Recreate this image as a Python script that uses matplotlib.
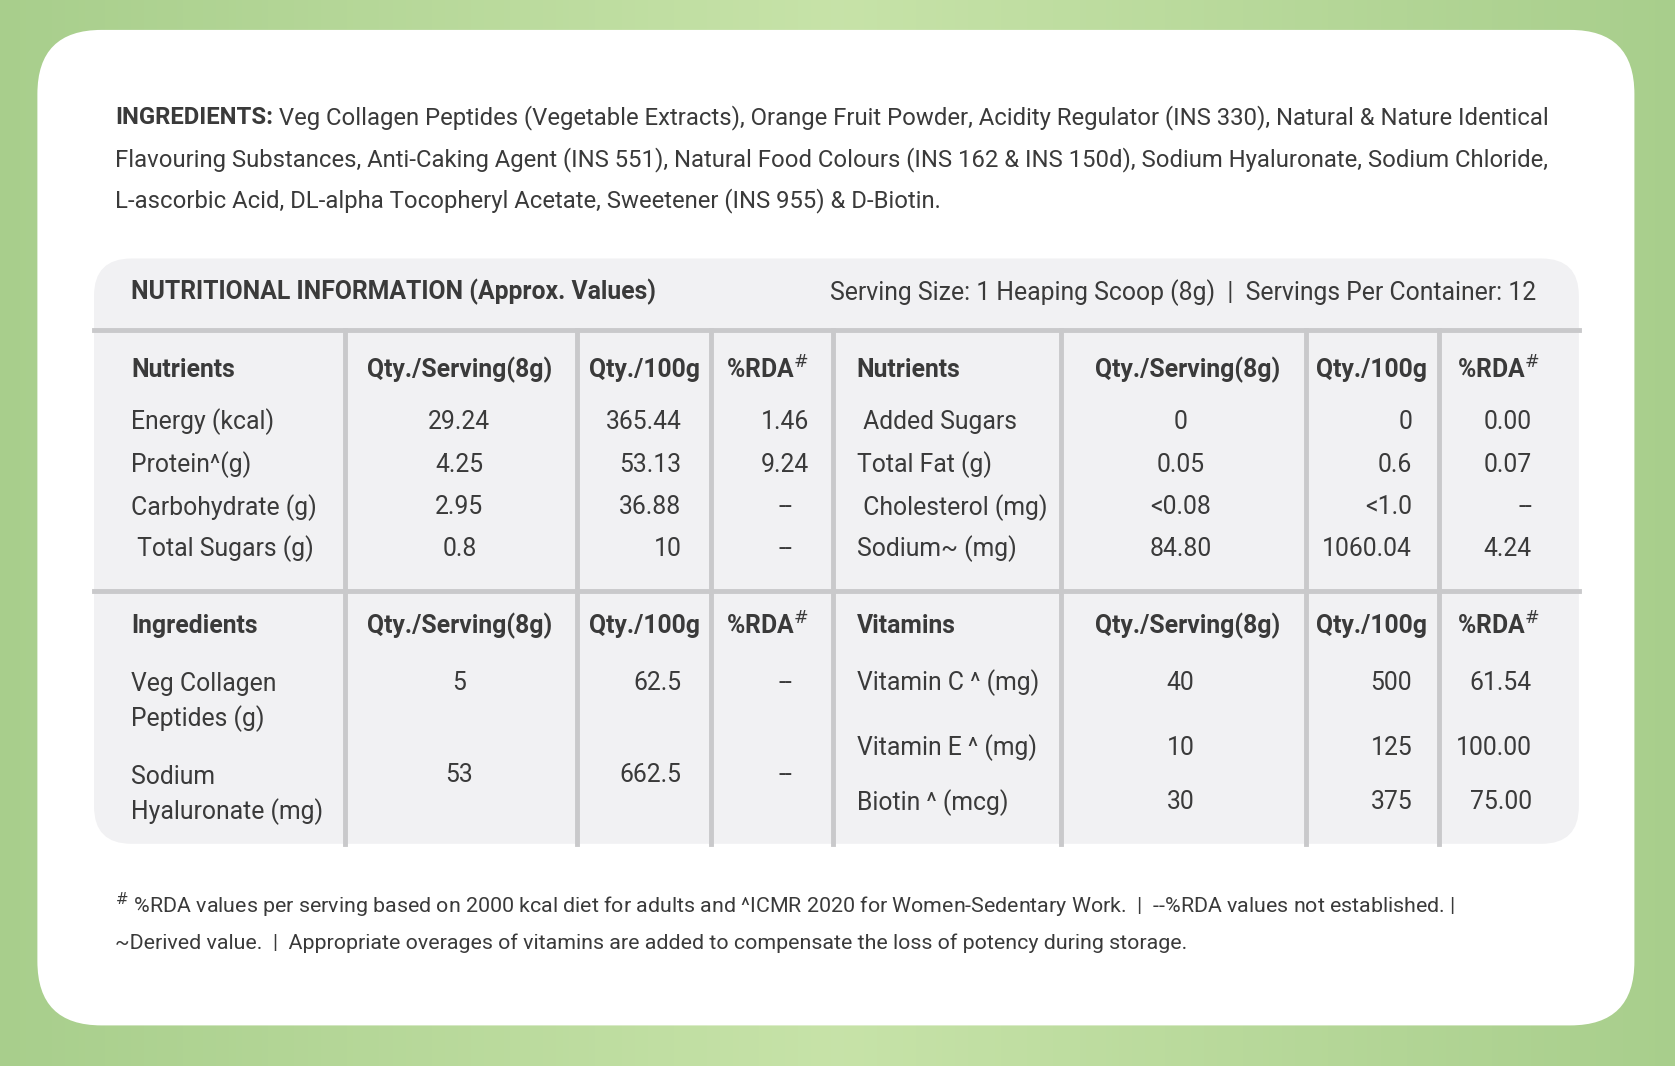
import matplotlib.pyplot as plt
from matplotlib.patches import FancyBboxPatch
import numpy as np

plt.rcParams['font.family'] = ['Liberation Sans Narrow', 'Roboto', 'DejaVu Sans']

W, H = 1568, 998
S = 1675 / W  # reference px -> output px
K = 0.8       # compensate for missing condensed font
def pt(px):
    return px * S * 0.72 * K

ingredients = [
    ("INGREDIENTS:", " Veg Collagen Peptides (Vegetable Extracts), Orange Fruit Powder, Acidity Regulator (INS 330), Natural & Nature Identical"),
    ("", "Flavouring Substances, Anti-Caking Agent (INS 551), Natural Food Colours (INS 162 & INS 150d), Sodium Hyaluronate, Sodium Chloride,"),
    ("", "L-ascorbic Acid, DL-alpha Tocopheryl Acetate, Sweetener (INS 955) & D-Biotin."),
]
headers_top = ["Nutrients", "Qty./Serving(8g)", "Qty./100g", "%RDA#", "Nutrients", "Qty./Serving(8g)", "Qty./100g", "%RDA#"]
headers_bot = ["Ingredients", "Qty./Serving(8g)", "Qty./100g", "%RDA#", "Vitamins", "Qty./Serving(8g)", "Qty./100g", "%RDA#"]
nut_left = ["Energy (kcal)", "Protein^(g)", "Carbohydrate (g)", " Total Sugars (g)"]
nut_left_srv = ["29.24", "4.25", "2.95", "0.8"]
nut_left_100 = ["365.44", "53.13", "36.88", "10"]
nut_left_rda = ["1.46", "9.24", "--", "--"]
nut_right = [" Added Sugars", "Total Fat (g)", " Cholesterol (mg)", "Sodium~ (mg)"]
nut_right_srv = ["0", "0.05", "<0.08", "84.80"]
nut_right_100 = ["0", "0.6", "<1.0", "1060.04"]
nut_right_rda = ["0.00", "0.07", "--", "4.24"]
ing_names = ["Veg Collagen\nPeptides (g)", "Sodium\nHyaluronate (mg)"]
ing_srv = ["5", "53"]
ing_100 = ["62.5", "662.5"]
ing_rda = ["--", "--"]
vit_names = ["Vitamin C ^ (mg)", "Vitamin E ^ (mg)", "Biotin ^ (mcg)"]
vit_srv = ["40", "10", "30"]
vit_100 = ["500", "125", "375"]
vit_rda = ["61.54", "100.00", "75.00"]
footer = ["# %RDA values per serving based on 2000 kcal diet for adults and ^ICMR 2020 for Women-Sedentary Work.  |  --%RDA values not established. |",
          "~Derived value.  |  Appropriate overages of vitamins are added to compensate the loss of potency during storage."]

fig = plt.figure(figsize=(16.75, 10.66), dpi=100)
ax = fig.add_axes([0, 0, 1, 1])
grad = np.linspace(0, 1, 256)
gimg = np.zeros((2, 256, 3))
c1, c2 = np.array([0.66, 0.81, 0.55]), np.array([0.78, 0.89, 0.66])
for i, g in enumerate(grad):
    gimg[:, i] = c1 + (c2 - c1) * (1 - abs(g - 0.5) * 2)
ax.imshow(gimg, aspect='auto', extent=[0, W, H, 0])
ax.set_xlim(0, W); ax.set_ylim(H, 0); ax.axis('off')

ax.add_patch(FancyBboxPatch((35 + 60, 28 + 60), 1495 - 120, 932 - 120,
                            boxstyle="round,pad=60", fc='white', ec='none'))
ax.add_patch(FancyBboxPatch((88 + 35, 242 + 35), 1390 - 70, 548 - 70,
                            boxstyle="round,pad=35", fc='#f1f1f3', ec='none'))

tc = '#3a3a3a'
fig.canvas.draw()
for i, (b, t) in enumerate(ingredients):
    y = 110 + 39 * i
    if b:
        tb = ax.text(108, y, b, fontsize=pt(28), color=tc, va='center', fontweight='bold')
        bb = tb.get_window_extent(renderer=fig.canvas.get_renderer()).transformed(ax.transData.inverted())
        ax.text(bb.x1, y, t, fontsize=pt(28), color=tc, va='center')
    else:
        ax.text(108, y, t, fontsize=pt(28), color=tc, va='center')

ax.text(123, 273, "NUTRITIONAL INFORMATION (Approx. Values)", fontsize=pt(29), color=tc, va='center', fontweight='bold')
ax.text(1438, 274, "Serving Size: 1 Heaping Scoop (8g)  |  Servings Per Container: 12", fontsize=pt(29), color=tc, va='center', ha='right')

lc = '#c9c9cb'
for y in [309, 553]:
    ax.plot([88, 1478], [y, y], color=lc, lw=3.5)
for x in [323, 540, 666, 780, 993, 1223, 1347]:
    ax.plot([x, x], [309, 790], color=lc, lw=3.5)

fs = pt(29)
hx = [123, 430, 603, 718, 802, 1112, 1284, 1402]
for hdrs, y in [(headers_top, 346), (headers_bot, 586)]:
    for j, h in enumerate(hdrs):
        ha = 'left' if j in (0, 4) else 'center'
        ax.text(hx[j], y, h.replace('#', '$^{\\#}$'), fontsize=fs, color=tc, va='center', ha=ha, fontweight='bold')

def row(y, cells):
    xs = [(123, 'left'), (430, 'center'), (638, 'right'), (735, 'center'),
          (802, 'left'), (1105, 'center'), (1322, 'right'), (1434, 'right')]
    for (x, ha), c in zip(xs, cells):
        if c is not None:
            ax.text(x, y, c, fontsize=fs, color=tc, va='center', ha=ha, linespacing=1.45)

for i, y in enumerate([395, 435, 475, 514]):
    row(y, [nut_left[i], nut_left_srv[i], nut_left_100[i], nut_left_rda[i],
            nut_right[i], nut_right_srv[i], nut_right_100[i], nut_right_rda[i]])
for i, y in enumerate([657, 744]):
    row(y, [ing_names[i], None, None, None, None, None, None, None])
    row(y - 18, [None, ing_srv[i], ing_100[i], ing_rda[i], None, None, None, None])
for i, y in enumerate([639, 700, 751]):
    row(y, [None, None, None, None, vit_names[i], vit_srv[i], vit_100[i], vit_rda[i]])

for i, f in enumerate(footer):
    ax.text(108, 848 + 35 * i, f.replace('# ', '$^{\\#}$ '), fontsize=pt(25), color=tc, va='center')

fig.savefig('out.png', dpi=100)
